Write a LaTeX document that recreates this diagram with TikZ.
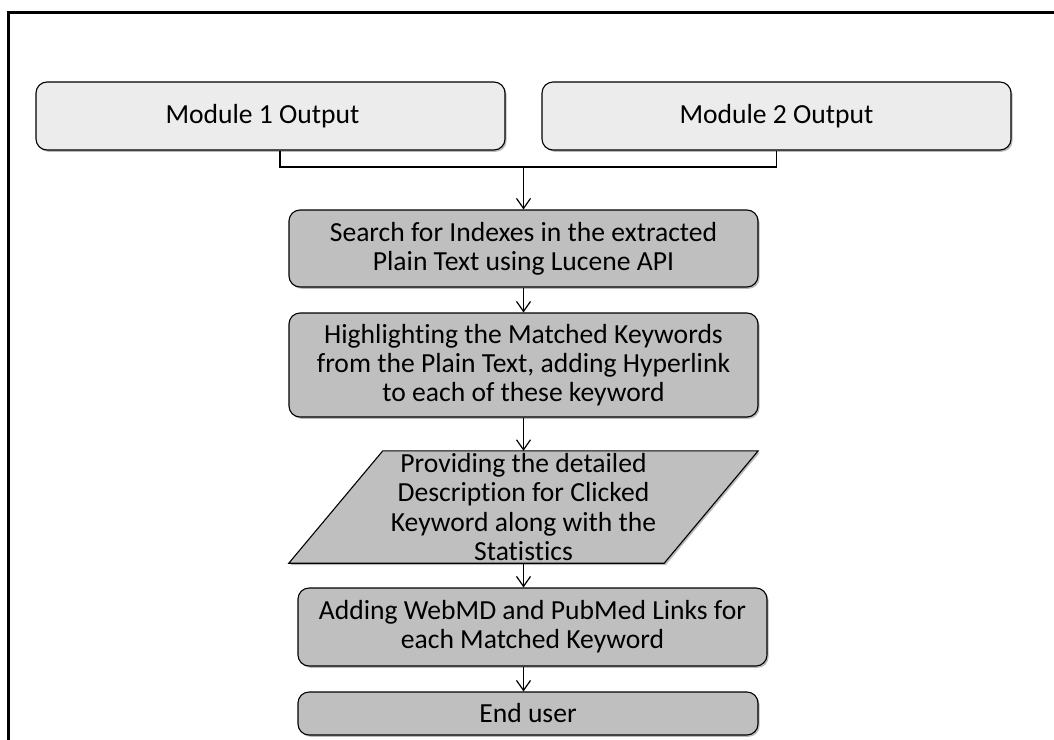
\documentclass[tikz,border=0pt]{standalone}
\usepackage{fontspec}
\setmainfont{Carlito}[Ligatures=NoCommon]
\usetikzlibrary{arrows.meta,shadows,backgrounds}

\definecolor{modfill}{HTML}{ECECEC}
\definecolor{stepfill}{HTML}{BFBFBF}

\tikzset{
  boxfont/.style={font=\fontsize{27.6}{29.2}\selectfont},
  boxshadow/.style={drop shadow={shadow xshift=1.6pt, shadow yshift=-1.8pt, fill=black!60, opacity=0.45}},
  modbox/.style={draw=black, line width=1.1pt, rounded corners=11pt, fill=modfill, boxshadow,
    minimum width=469pt, minimum height=68pt, inner sep=0pt, align=center, boxfont},
  stepbox/.style={draw=black, line width=1.1pt, rounded corners=11pt, fill=stepfill, boxshadow,
    inner sep=0pt, align=center, boxfont},
  flow/.style={draw=black, line width=1.2pt, -{Straight Barb[length=10pt,width=14pt,line width=1.2pt]}},
  link/.style={draw=black, line width=1.1pt},
}

\begin{document}
\begin{tikzpicture}[x=1pt,y=1pt]
\useasboundingbox (0,0) rectangle (1054,-739);

% outer frame
\draw[line width=3pt] (1056,-12) -- (8,-12) -- (8,-741);

% module outputs
\node[modbox] (m1) at (270.5,-116) {Module 1 Output\hspace*{16pt}};
\node[modbox] (m2) at (776.5,-116) {Module 2 Output};

% processing steps
\node[stepbox, minimum width=469pt, minimum height=77pt] (search) at (523.5,-248.5)
  {Search for Indexes in the extracted\\Plain Text using Lucene API};
\node[stepbox, minimum width=469pt, minimum height=104pt] (hl) at (523.5,-365)
  {Highlighting the Matched Keywords\\from the Plain Text, adding Hyperlink\\to each of these keyword};
\node[inner sep=0pt, minimum width=375pt, minimum height=112pt, align=center, boxfont]
  (para) at (523.5,-507)
  {Providing the detailed\\Description for Clicked\\Keyword along with the\\Statistics};
\begin{pgfonlayer}{background}
  \draw[line width=1.1pt, fill=stepfill, boxshadow]
    ([xshift=47pt]para.north west) -- ([xshift=47pt]para.north east)
    -- ([xshift=-47pt]para.south east) -- ([xshift=-47pt]para.south west) -- cycle;
\end{pgfonlayer}
\node[stepbox, minimum width=469pt, minimum height=78pt] (links) at (532.5,-627)
  {Adding WebMD and PubMed Links for\\each Matched Keyword};
\node[stepbox, minimum width=460pt, minimum height=43pt] (user) at (528,-713.5)
  {End user};

% merge of the two module outputs
\coordinate (join) at (para.center |- 0,-167);
\draw[link] ([xshift=9.5pt]m1.south) |- (join) -| (m2.south);
\draw[flow] (join) -- (search.north);

% main flow
\draw[flow] (search.south) -- (hl.north);
\draw[flow] (hl.south) -- (para.north);
\draw[flow] (para.south) -- (para.south |- links.north);
\draw[flow] (para.south |- links.south) -- (para.south |- user.north);
\end{tikzpicture}
\end{document}
